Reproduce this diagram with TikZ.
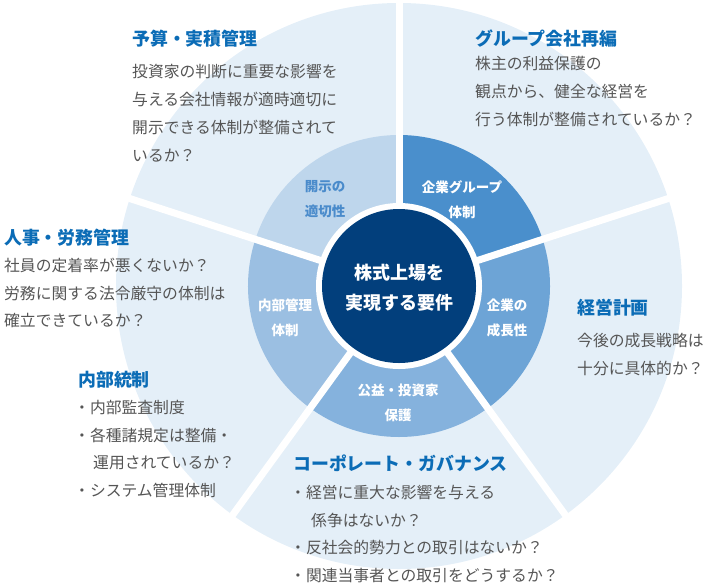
\documentclass[tikz,border=0pt]{standalone}
\usepackage{fontspec}
\setmainfont{Noto Sans CJK JP}
\definecolor{outerbg}{HTML}{E4EFF8}
\definecolor{secA}{HTML}{BED6EC}
\definecolor{secB}{HTML}{4A8FCC}
\definecolor{secC}{HTML}{6DA4D6}
\definecolor{secD}{HTML}{85B2DD}
\definecolor{secE}{HTML}{9BBFE2}
\definecolor{navy}{HTML}{023F7C}
\definecolor{headblue}{HTML}{0B6CB6}
\definecolor{bodygray}{HTML}{555555}
\definecolor{labelblue}{HTML}{4A8BCB}
\tikzset{
  head/.style={anchor=west, inner sep=0pt, text=headblue, font=\fontsize{17.9}{20}\selectfont\bfseries},
  body/.style={anchor=north west, inner sep=0pt, align=left, text=bodygray, font=\fontsize{15.8}{27.8}\selectfont},
  seclabel/.style={anchor=center, inner sep=0pt, align=center, text=white, font=\fontsize{13.5}{25}\selectfont\bfseries},
  gap/.style={white, line width=7pt},
}
\begin{document}
\begin{tikzpicture}[x=1pt,y=-1pt]
\useasboundingbox (0,0) rectangle (703,584);
\coordinate (c) at (399,286);
% outer disc
\fill[outerbg] (c) circle (283);
% inner sectors (visual angles)
\fill[secA] (c) -- ++(-90:151) arc[start angle=-90, end angle=-162, radius=151] -- cycle;
\fill[secB] (c) -- ++(-18:151) arc[start angle=-18, end angle=-90, radius=151] -- cycle;
\fill[secC] (c) -- ++(54:151) arc[start angle=54, end angle=-18, radius=151] -- cycle;
\fill[secD] (c) -- ++(126:151) arc[start angle=126, end angle=54, radius=151] -- cycle;
\fill[secE] (c) -- ++(198:151) arc[start angle=198, end angle=126, radius=151] -- cycle;
% white gaps
\foreach \a in {90,18,-54,-126,162}{
  \draw[gap] (c) -- ++(-\a:287);
}
\fill[white] (c) circle (83);
\fill[navy] (c) circle (77);
% centre text
\node[seclabel, font=\fontsize{18}{30}\selectfont\bfseries] (center) at (399,288) {株式上場を\\実現する要件};
% sector labels
\node[seclabel, text=labelblue] (kaiji) at (325,199.5) {開示の\\適切性};
\node[seclabel] (group) at (462,199.5) {企業グループ\\体制};
\node[seclabel] (seichou) at (507,318) {企業の\\成長性};
\node[seclabel] (koueki) at (398,402.5) {公益・投資家\\保護};
\node[seclabel] (naibu) at (285,318) {内部管理\\体制};
% outer texts
\node[head] (h1) at (132,38.3) {予算・実積管理};
\node[body] (b1) at (132,64.5) {投資家の判断に重要な影響を\\与える会社情報が適時適切に\\開示できる体制が整備されて\\いるか？};
\node[head] (h2) at (475,38.3) {グループ会社再編};
\node[body] (b2) at (475,56.1) {株主の利益保護の\\観点から、健全な経営を\\行う体制が整備されているか？};
\node[head] (h3) at (4,238) {人事・労務管理};
\node[body] (b3) at (4,257.8) {社員の定着率が悪くないか？\\労務に関する法令厳守の体制は\\確立できているか？};
\node[head] (h4) at (78,380) {内部統制};
\node[body] (b4) at (74,399.8) {・内部監査制度\\・各種諸規定は整備・\\\hspace*{19pt}運用されているか？\\・システム管理体制};
\node[head] (h5) at (577,308) {経営計画};
\node[body] (b5) at (577,332.8) {今後の成長戦略は\\十分に具体的か？};
\node[head] (h6) at (293,463) {コーポレート・ガバナンス};
\node[body] (b6) at (290,484.8) {・経営に重大な影響を与える\\\hspace*{21pt}係争はないか？\\・反社会的勢力との取引はないか？\\・関連当事者との取引をどうするか？};
\end{tikzpicture}
\end{document}
